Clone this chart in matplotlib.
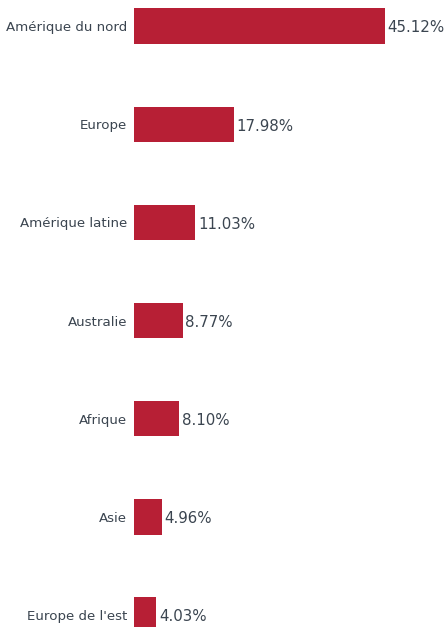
import matplotlib
matplotlib.use("Agg")
import matplotlib.pyplot as plt

regions = ["Amérique du nord", "Europe", "Amérique latine", "Australie",
           "Afrique", "Asie", "Europe de l'est"]
shares = [45.12, 17.98, 11.03, 8.77, 8.10, 4.96, 4.03]

bar_color = "#B71F35"
text_color = "#3B4550"

fig = plt.figure(figsize=(4.46, 6.27), dpi=100)
ax = fig.add_axes([134 / 446, 0, 312 / 446, 1])

pos = list(range(len(regions)))
ax.barh(pos, shares, height=0.36, color=bar_color)

for y, v in zip(pos, shares):
    ax.text(v + 0.45, y + 0.02, f"{v:.2f}%", va="center", ha="left",
            fontsize=10.8, color=text_color)

ax.set_yticks(pos)
ax.set_yticklabels(regions, fontsize=9.6, color=text_color)
ax.tick_params(axis="y", length=0, pad=5)
ax.set_xticks([])
ax.set_xlim(0, 56.08)
ax.set_ylim(6.122, -0.265)
for s in ax.spines.values():
    s.set_visible(False)

fig.savefig("out.png", dpi=100)
